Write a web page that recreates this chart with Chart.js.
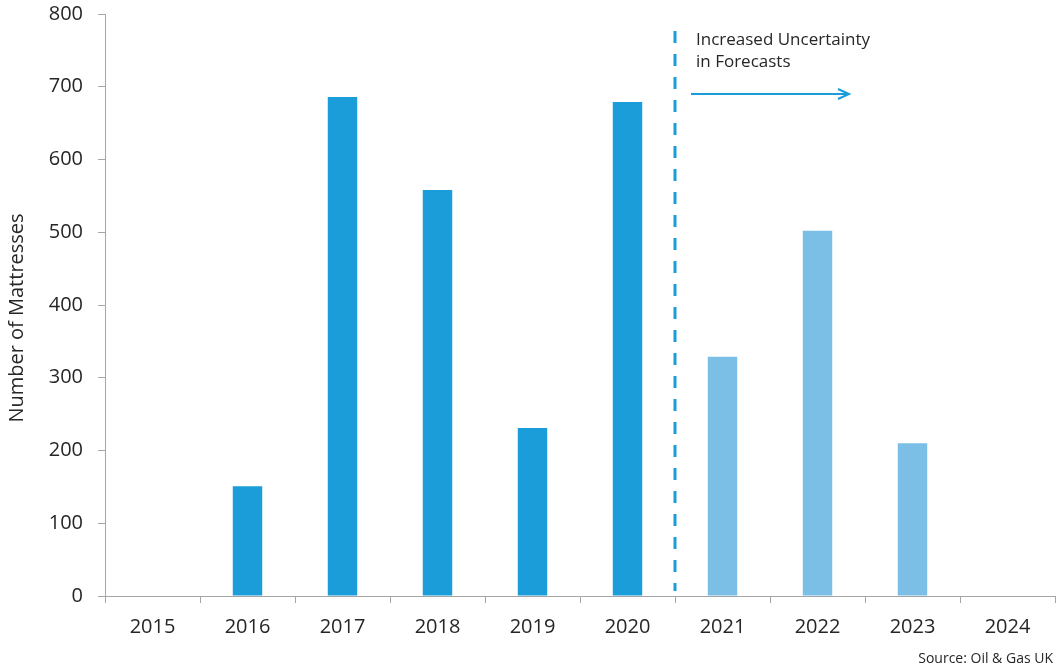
<!DOCTYPE html>
<html>
<head>
<meta charset="utf-8">
<script src="https://cdn.jsdelivr.net/npm/chart.js@4"></script>
<style>
  html, body { margin: 0; padding: 0; background: #fff; }
  #wrap { width: 1056px; height: 670px; }
</style>
</head>
<body>
<div id="wrap"><canvas id="mattressChart" width="1056" height="670"></canvas></div>
<script>
// years on the x axis
const years = ['2015', '2016', '2017', '2018', '2019', '2020', '2021', '2022', '2023', '2024'];
// mattresses decommissioned per year (no bar for 2015 and 2024)
const mattresses = [null, 151, 686, 558, 231, 679, 329, 502, 210, null];
// first year that is a forecast
const forecastStart = '2021';

const yTicks = [0, 100, 200, 300, 400, 500, 600, 700, 800];

const ACTUAL = '#1A9DD9';
const FORECAST = '#7BBFE7';
const AXIS = '#A6A6A6';
const TEXT = '#262626';
const FONT = "'Open Sans', 'Noto Sans', sans-serif";

const barColors = years.map(y => (y >= forecastStart ? FORECAST : ACTUAL));

// dashed separator, note and arrow, y title and source line
const extras = {
  id: 'extras',
  afterDraw(chart) {
    const { ctx, chartArea, scales } = chart;
    const x = scales.x;
    const i = years.indexOf(forecastStart);
    const lineX = Math.round((x.getPixelForValue(i - 1) + x.getPixelForValue(i)) / 2);

    ctx.save();
    // dashed divider
    ctx.strokeStyle = ACTUAL;
    ctx.lineWidth = 3;
    ctx.setLineDash([12, 11]);
    ctx.beginPath();
    ctx.moveTo(lineX, 31);
    ctx.lineTo(lineX, chartArea.bottom - 5);
    ctx.stroke();
    ctx.setLineDash([]);

    // note
    ctx.fillStyle = TEXT;
    ctx.font = '17px ' + FONT;
    ctx.textAlign = 'left';
    ctx.textBaseline = 'middle';
    ctx.fillText('Increased Uncertainty', lineX + 21, 40);
    ctx.fillText('in Forecasts', lineX + 21, 62);

    // arrow
    const ax0 = lineX + 16, ax1 = lineX + 174, ay = 94;
    ctx.strokeStyle = ACTUAL;
    ctx.lineWidth = 2;
    ctx.beginPath();
    ctx.moveTo(ax0, ay);
    ctx.lineTo(ax1, ay);
    ctx.moveTo(ax1 - 11, ay - 5);
    ctx.lineTo(ax1, ay);
    ctx.lineTo(ax1 - 11, ay + 5);
    ctx.stroke();

    // y axis title
    ctx.save();
    ctx.translate(17, 318);
    ctx.rotate(-Math.PI / 2);
    ctx.textAlign = 'center';
    ctx.font = '20px ' + FONT;
    ctx.fillText('Number of Mattresses', 0, 0);
    ctx.restore();

    // source
    ctx.font = '14px ' + FONT;
    ctx.textAlign = 'right';
    ctx.fillText('Source: Oil & Gas UK', 1053, 659);
    ctx.restore();
  }
};

new Chart(document.getElementById('mattressChart'), {
  type: 'bar',
  data: {
    labels: years,
    datasets: [{
      data: mattresses,
      backgroundColor: barColors,
      borderWidth: 0,
      categoryPercentage: 1,
      barPercentage: 0.31
    }]
  },
  options: {
    responsive: false,
    animation: false,
    layout: { padding: { top: 14, right: 1, left: 0, bottom: 0 } },
    plugins: {
      legend: { display: false },
      tooltip: { enabled: false }
    },
    scales: {
      x: {
        offset: true,
        grid: { offset: true, drawOnChartArea: false, drawTicks: true, tickLength: 7, color: AXIS },
        border: { color: AXIS, width: 1 },
        ticks: { color: TEXT, font: { family: FONT, size: 20 }, padding: 12, maxRotation: 0 },
        afterFit(scale) {
          scale.height = 74;
          scale.paddingLeft = 0;
          scale.paddingRight = 0;
        }
      },
      y: {
        min: 0,
        max: 800,
        afterBuildTicks(scale) { scale.ticks = yTicks.map(v => ({ value: v })); },
        grid: { drawOnChartArea: false, drawTicks: true, tickLength: 7, color: AXIS },
        border: { color: AXIS, width: 1 },
        ticks: { color: TEXT, font: { family: FONT, size: 20 }, padding: 15 },
        afterFit(scale) {
          scale.width = 105;
          scale.paddingTop = 0;
          scale.paddingBottom = 0;
        }
      }
    }
  },
  plugins: [extras]
});
</script>
</body>
</html>
